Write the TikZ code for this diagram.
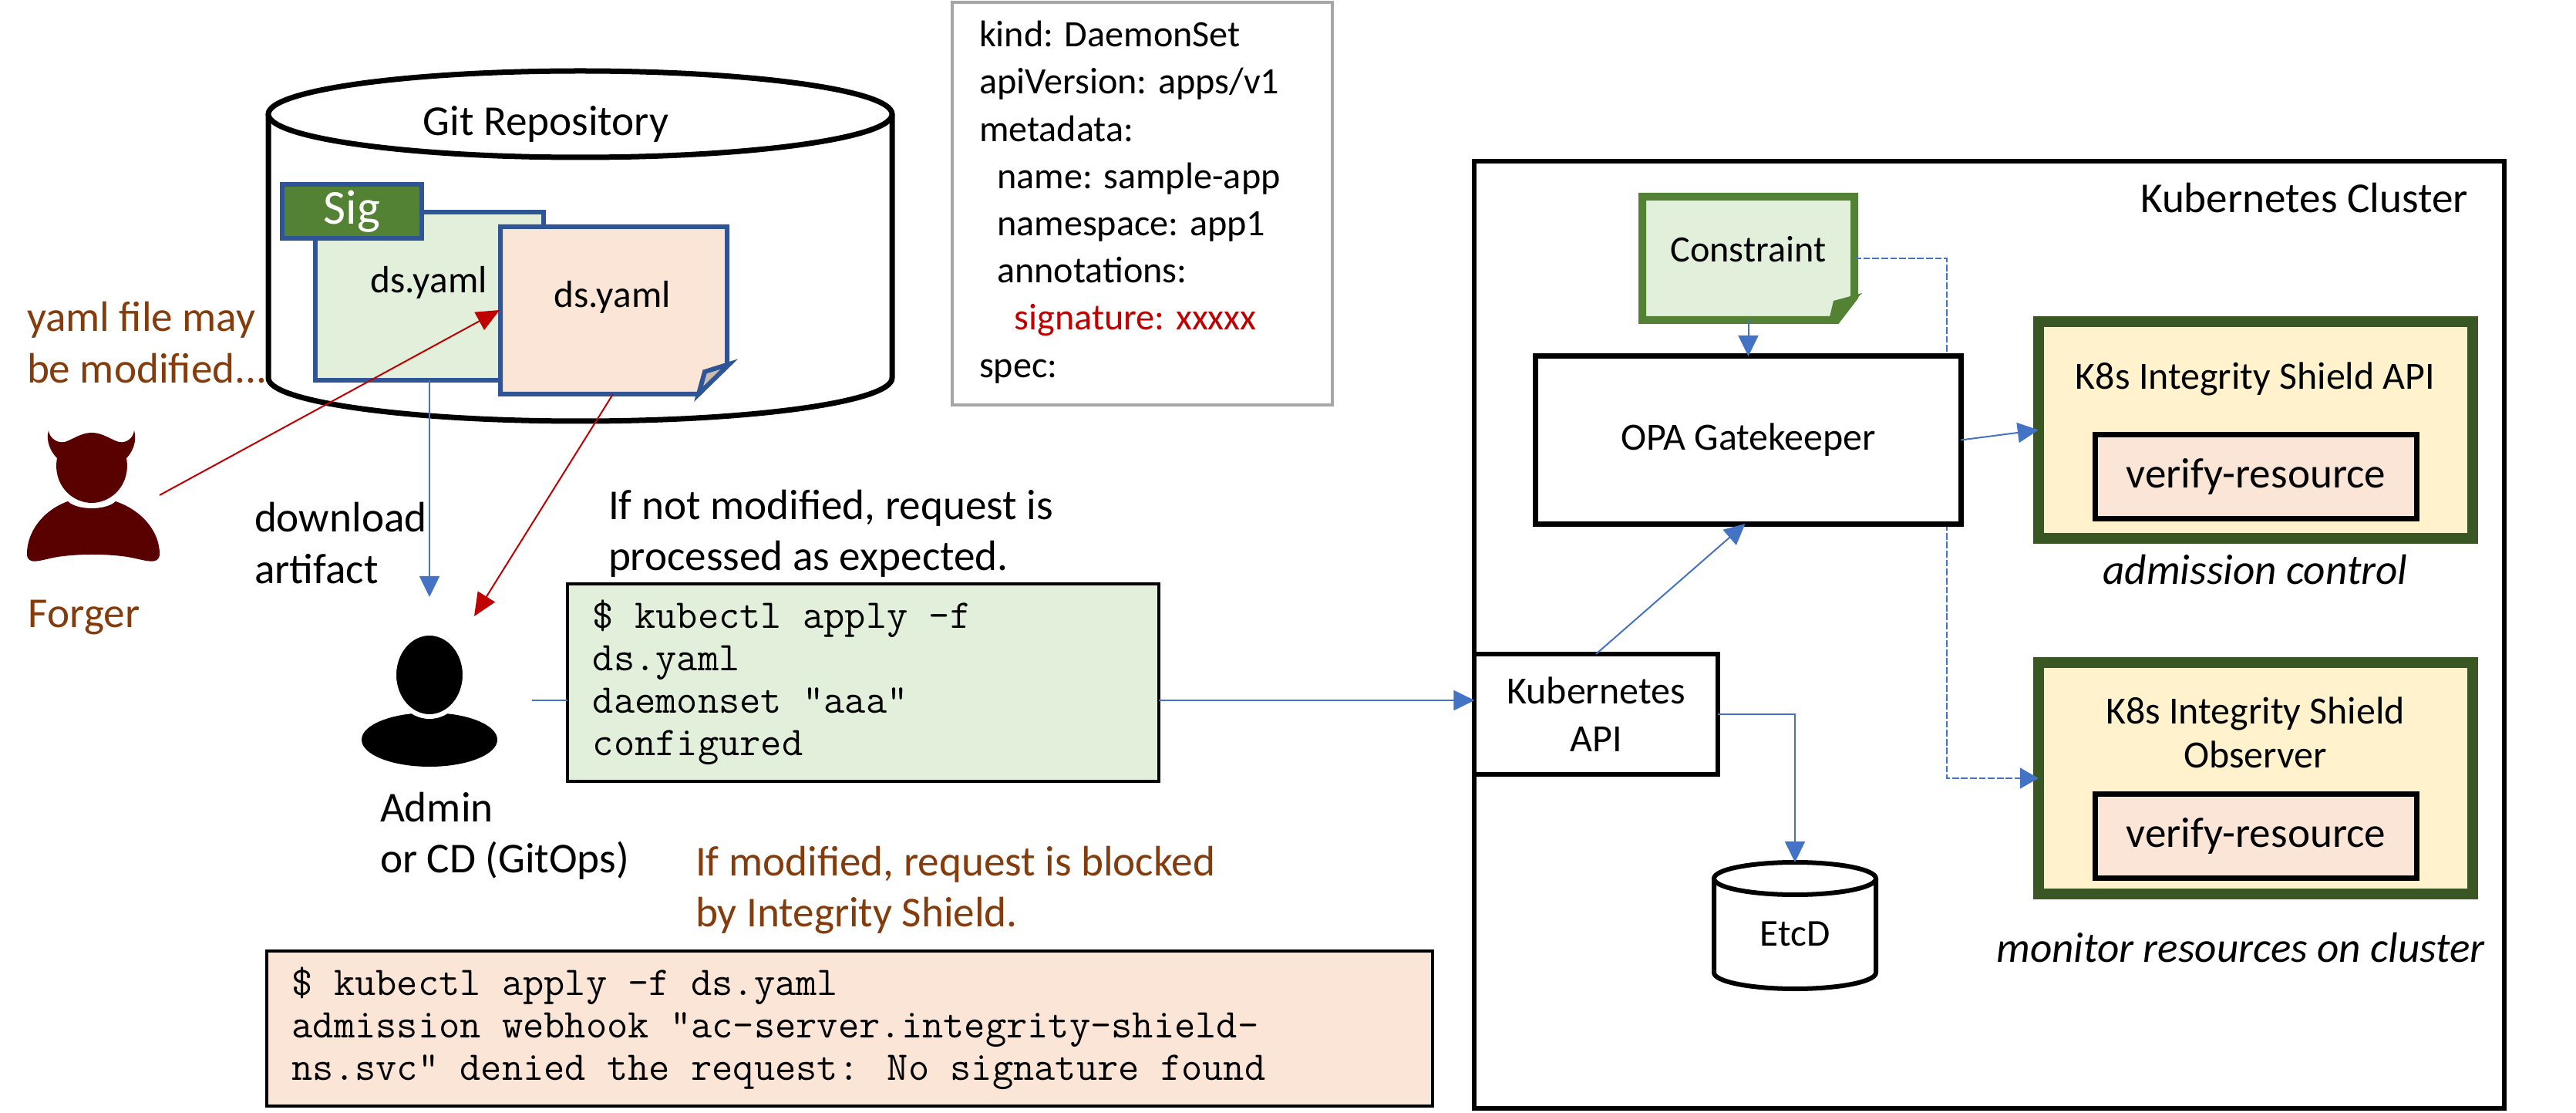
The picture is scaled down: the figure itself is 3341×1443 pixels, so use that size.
\documentclass[tikz,border=0pt]{standalone}
\usepackage{fontspec}
\setmainfont{Carlito}
\usetikzlibrary{arrows.meta,calc}
\definecolor{kblue}{HTML}{4472C4}
\definecolor{kred}{HTML}{C00000}
\definecolor{kbrown}{HTML}{843C0C}
\definecolor{kgreen}{HTML}{548235}
\definecolor{kdark}{HTML}{385723}
\definecolor{lgreen}{HTML}{E2EFDA}
\definecolor{lpeach}{HTML}{FBE5D6}
\definecolor{lyellow}{HTML}{FFF2CC}
\definecolor{docline}{HTML}{2F5597}
\definecolor{forgerc}{HTML}{590000}
\definecolor{foldc}{HTML}{C9BCB0}
\definecolor{ygrey}{HTML}{A6A6A6}
\newcommand{\fs}[2]{\fontsize{#1}{#2}\selectfont}
\tikzset{
  px/.style={line width=#1*0.2845pt},
  lbl/.style={inner sep=0pt,outer sep=0pt,font=\fs{15.7}{18.8},align=flush left,anchor=west},
  ctr/.style={inner sep=0pt,outer sep=0pt,font=\fs{15.7}{18.8},align=flush center},
  brown/.style={text=kbrown},
  rbox/.style={rectangle,inner sep=0pt,outer sep=0pt,align=flush center},
  code/.style={rbox,draw=black,px=4,align=flush left,font=\ttfamily\fs{15.05}{15.65}},
  barrow/.style={draw=kblue,px=2,-{Triangle[length=27*0.2845pt,width=26*0.2845pt,fill=kblue]}},
  rarrow/.style={draw=kred,px=2,-{Triangle[length=30*0.2845pt,width=26*0.2845pt,fill=kred]}},
  dasharrow/.style={draw=kblue,px=1.8,dash pattern=on 2.5pt off 0.8pt,-{Triangle[length=24*0.2845pt,width=27*0.2845pt,fill=kblue]}},
  shieldbox/.style={rbox,draw=kdark,px=14,fill=lyellow,minimum width=5.63cm},
  funcbox/.style={rbox,draw=black,px=7,fill=lpeach,minimum width=4.16cm,minimum height=1.09cm,font=\fs{15.7}{19}},
  sbox/.style={rbox,draw=black,px=7,fill=white,font=\fs{14.2}{17.7}},
}
\begin{document}
\begin{tikzpicture}[x=0.01cm,y=-0.01cm]
\useasboundingbox (0,0) rectangle (3341,1443);
% ---- Git repository cylinder
\draw[px=7,fill=white] (348,148) -- (348,490) arc[start angle=180,end angle=0,x radius=404.5,y radius=56] -- (1157,148);
\draw[px=7,fill=white] (752.5,148) ellipse[x radius=404.5,y radius=56];
\node[ctr] (git) at (708,161) {Git Repository};
% ---- green document
\node[rbox,draw=docline,px=6,fill=lgreen,minimum width=2.95cm,minimum height=2.18cm] (doca) at (557,384) {};
\node[ctr,font=\fs{14}{17}] (docatext) at (556,366) {ds.yaml};
\node[rbox,draw=docline,px=6,fill=kgreen,minimum width=1.80cm,minimum height=0.70cm,text=white,font=\fs{18}{20}] (sig) at (456.5,274) {Sig};
% ---- peach document
\draw[docline,px=6,fill=lpeach] (649,294) -- (943,294) -- (943,472) -- (906,511) -- (649,511) -- cycle;
\draw[docline,px=6,fill=foldc,line join=miter] (946,472) -- (914,482) -- (906,511) -- cycle;
\coordinate (docbS) at (795,511);
\coordinate (docbW) at (648,402);
\node[ctr,font=\fs{14}{17}] (docbtext) at (794,385) {ds.yaml};
% ---- labels
\node[lbl,brown] (mod) at (35,444) {yaml file may\\be modified...};
\node[lbl,brown] (forgerlbl) at (37,801) {Forger};
\node[lbl] (dl) at (330,704) {download\\artifact};
\node[lbl] (ok) at (789,692) {If not modified, request is\\processed as expected.};
\node[lbl,brown] (blocked) at (902,1154) {If modified, request is blocked\\by Integrity Shield.};
\node[lbl] (adminlbl) at (493,1084) {Admin\\or CD (GitOps)};
% ---- forger icon
\fill[forgerc] (63,558) .. controls (64,568) and (74,575) .. (84,573) .. controls (94,570) and (105,561) .. (119,561)
  .. controls (133,561) and (144,570) .. (154,573) .. controls (164,575) and (173,568) .. (174,558)
  .. controls (178,572) and (172,586) .. (164,594) .. controls (170,628) and (145,652) .. (119,652)
  .. controls (93,652) and (68,628) .. (74,594) .. controls (66,586) and (59,572) .. (63,558) -- cycle;
\fill[forgerc] (88,650) .. controls (100,662) and (138,662) .. (150,650)
  .. controls (185,662) and (207,690) .. (207,718) .. controls (207,735) and (185,725) .. (165,722)
  .. controls (140,718) and (100,718) .. (75,722) .. controls (55,725) and (35,735) .. (35,718)
  .. controls (35,690) and (55,662) .. (88,650) -- cycle;
\coordinate (forgerE) at (207,642);
% ---- admin icon
\fill[black] (557,959) ellipse[x radius=88,y radius=35];
\draw[white,px=6,fill=black] (557,875) ellipse[x radius=46,y radius=54];
\coordinate (adminN) at (557,774);
\coordinate (adminNE) at (615,799);
\coordinate (adminE) at (690,908);
% ---- code boxes
\node[code,fill=lgreen,minimum width=7.67cm,minimum height=2.56cm,text width=7.01cm] (cmd) at (1119.5,885) {\$ kubectl apply -f\\ds.yaml\\daemonset "aaa"\\configured};
\node[code,fill=lpeach,minimum width=15.12cm,minimum height=2.01cm,text width=14.46cm] (deny) at (1102,1333.5) {\$ kubectl apply -f ds.yaml\\admission webhook "ac-server.integrity-shield-\\ns.svc" denied the request: No signature found};
% ---- yaml box
\node[rbox,draw=ygrey,px=4,minimum width=4.93cm,minimum height=5.22cm] (yamlbox) at (1481.5,264) {};
\node[lbl,font=\fs{13.7}{17.4},anchor=west] (yamltext) at (1270,262) {kind: DaemonSet\\apiVersion: apps/v1\\metadata:\\\hspace*{6.6pt}name: sample-app\\\hspace*{6.6pt}namespace: app1\\\hspace*{6.6pt}annotations:\\\hspace*{13pt}\textcolor{kred}{signature: xxxxx}\\spec:};
% ---- cluster
\node[rbox,draw=black,px=6,minimum width=13.36cm,minimum height=12.28cm] (cluster) at (2580,823) {};
\node[lbl,anchor=east] (clusterlbl) at (3201,257) {Kubernetes Cluster};
% ---- shields (before dashed connector)
\node[shieldbox,minimum height=2.81cm] (api) at (2925.5,557.5) {};
\node[shieldbox,minimum height=2.99cm] (obs) at (2925.5,1009) {};
% ---- constraint
\draw[kgreen,px=10,fill=lgreen] (2130,255) -- (2405,255) -- (2405,385) -- (2382,415) -- (2130,415) -- cycle;
\fill[kgreen] (2415,380) -- (2382,415) -- (2372,415) -- (2378,390) -- cycle;
\node[rbox,minimum width=2.75cm,minimum height=1.6cm,font=\fs{13.7}{16}] (constraint) at (2267.5,335) {\raisebox{6.8pt}{Constraint}};
% ---- dashed connector passes behind OPA
\coordinate (dbend) at (2525,335);
\coordinate (dbend2) at (2525,1009);
\draw[dasharrow] (constraint.east) -- (dbend) -- (dbend2) -- (obs.west);
\node[sbox,minimum width=5.51cm,minimum height=2.17cm] (opa) at (2267.5,570.5) {\raisebox{-1pt}{OPA Gatekeeper}};
\node[sbox,px=6,minimum width=3.15cm,minimum height=1.56cm] (kapi) at (2070,926) {Kubernetes\\API};
\node[ctr,font=\fs{14.2}{17}] (apilbl) at (2925,491) {K8s Integrity Shield API};
\node[funcbox] (vr1) at (2926,618) {verify-resource};
\node[ctr,font=\itshape\fs{15.7}{18.8}] (admc) at (2925,739) {admission control};
\node[ctr,font=\fs{14.2}{16.2}] (obslbl) at (2925,950) {K8s Integrity Shield\\Observer};
\node[funcbox] (vr2) at (2926,1084) {verify-resource};
\node[ctr,font=\itshape\fs{15.7}{18.8}] (monc) at (2906,1229) {monitor resources on cluster};
% ---- etcd
\draw[px=6,fill=white] (2223,1139) -- (2223,1261) arc[start angle=180,end angle=0,x radius=105,y radius=21] -- (2433,1139);
\draw[px=6,fill=white] (2328,1139) ellipse[x radius=105,y radius=21];
\node[ctr,font=\fs{14}{17}] (etcd) at (2328,1211) {EtcD};
\coordinate (etcdN) at (2328,1118);
% ---- connectors
\draw[barrow,px=1.5] (doca.south) -- (adminN);
\draw[rarrow] (forgerE) -- (docbW);
\draw[rarrow] (docbS) -- (adminNE);
\draw[draw=kblue,px=2] (adminE) -- (adminE -| cmd.west);
\draw[barrow] (cmd.east |- adminE) -- (adminE -| kapi.west);
\draw[barrow] ([yshift=0.02cm]constraint.south) -- (opa.north);
\draw[barrow] (opa.east) -- (api.west);
\draw[barrow] (kapi.north) -- ([xshift=-0.04cm]opa.south);
\draw[barrow] (kapi.east) -| (etcdN);
\end{tikzpicture}
\end{document}
